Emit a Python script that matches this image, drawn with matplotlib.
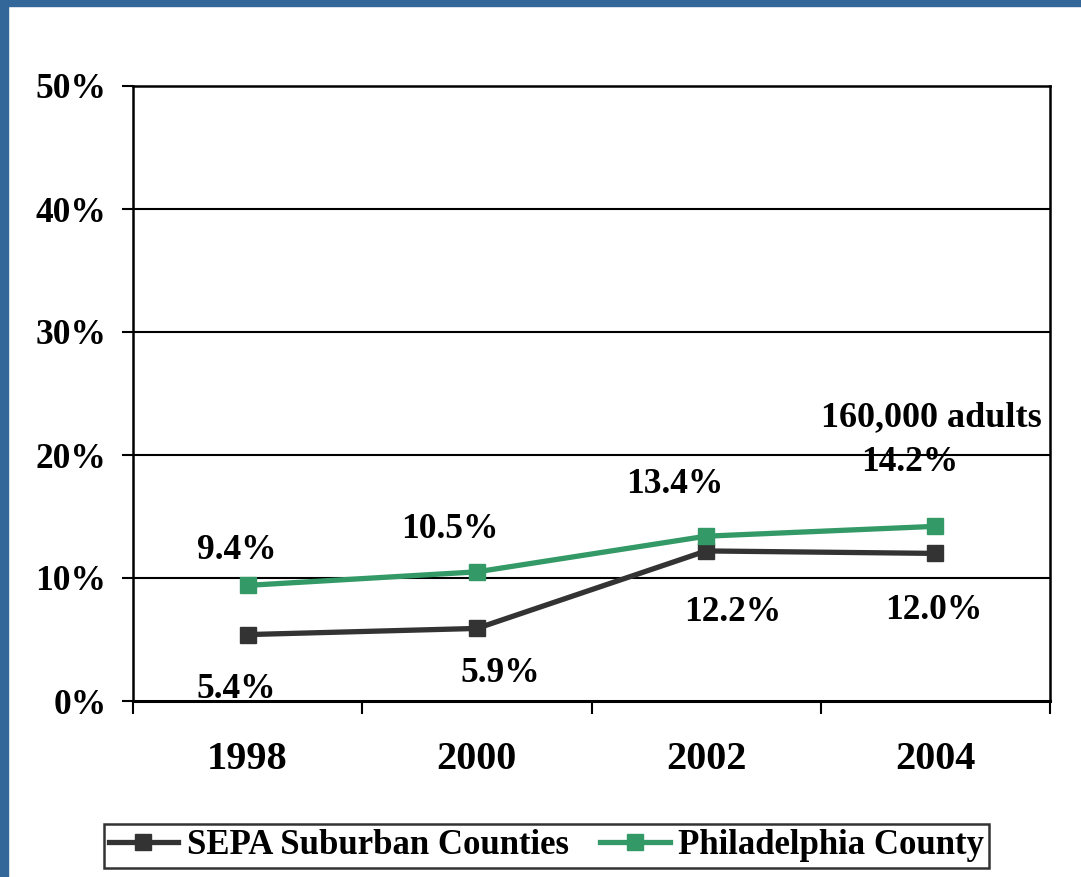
import matplotlib
matplotlib.use("Agg")
import matplotlib.pyplot as plt
from matplotlib.patches import Rectangle
from matplotlib.lines import Line2D

years = ["1998", "2000", "2002", "2004"]
sepa = [5.4, 5.9, 12.2, 12.0]
phila = [9.4, 10.5, 13.4, 14.2]
sepa_labels = ["5.4%", "5.9%", "12.2%", "12.0%"]
phila_labels = ["9.4%", "10.5%", "13.4%", "14.2%"]
y_ticks = [0, 10, 20, 30, 40, 50]
y_tick_labels = ["0%", "10%", "20%", "30%", "40%", "50%"]
series_names = ["SEPA Suburban Counties", "Philadelphia County"]
note = "160,000 adults"

plt.rcParams['font.family'] = ['Liberation Serif', 'DejaVu Serif']
plt.rcParams['font.weight'] = 'bold'

W, H = 1081, 877
fig = plt.figure(figsize=(W / 100, H / 100), dpi=100)
fig.patch.set_facecolor('white')

# blue frame (top and left)
blue = '#336699'
fig.add_artist(Rectangle((0, 1 - 6 / H), 1, 6 / H, transform=fig.transFigure, color=blue, zorder=0))
fig.add_artist(Rectangle((0, 0), 8 / W, 1, transform=fig.transFigure, color=blue, zorder=0))

left, right, top, bottom = 133, 1050, 86, 701
ax = fig.add_axes([left / W, 1 - bottom / H, (right - left) / W, (bottom - top) / H])

x = list(range(len(years)))
dark = '#333333'
green = '#339966'
ax.plot(x, sepa, color=dark, lw=3.8, marker='s', ms=12, zorder=3, solid_joinstyle='miter')
ax.plot(x, phila, color=green, lw=3.8, marker='s', ms=12, zorder=3, solid_joinstyle='miter')

ax.set_xlim(-0.5, len(years) - 0.5)
ax.set_ylim(0, 50)
ax.set_yticks(y_ticks)
ax.set_yticklabels(y_tick_labels, fontsize=25.5, fontweight='bold')
ax.set_xticks(x)
ax.set_xticklabels(years, fontsize=29, fontweight='bold')
ax.set_xticks([i - 0.5 for i in range(len(years) + 1)], minor=True)
ax.tick_params(axis='x', which='major', length=0, pad=29)
ax.tick_params(axis='x', which='minor', length=9, width=1.5, direction='out')
ax.tick_params(axis='y', length=8, width=1.5, direction='out', pad=11)

for yv in y_ticks[1:-1]:
    ax.axhline(yv, color='black', lw=1.5, zorder=1)
for s in ax.spines.values():
    s.set_color('black')
    s.set_linewidth(1.8)
ax.spines['bottom'].set_linewidth(2.2)

sepa_off = [(-11, -55), (23, -45), (27, -62), (-2, -57)]
phila_off = [(-11, 35), (-27, 42), (-31, 52), (-26, 64)]
for i in range(len(years)):
    ax.annotate(sepa_labels[i], (x[i], sepa[i]), xytext=sepa_off[i], textcoords='offset pixels',
                ha='center', va='center', fontsize=25.5, fontweight='bold', zorder=4)
    ax.annotate(phila_labels[i], (x[i], phila[i]), xytext=phila_off[i], textcoords='offset pixels',
                ha='center', va='center', fontsize=25.5, fontweight='bold', zorder=4)
ax.annotate(note, (x[3], phila[3]), xytext=(-4, 109), textcoords='offset pixels',
            ha='center', va='center', fontsize=26, fontweight='bold', zorder=4)

handles = [Line2D([], [], color=dark, lw=3.8, marker='s', ms=12),
           Line2D([], [], color=green, lw=3.8, marker='s', ms=12)]
leg = fig.legend(handles, series_names, loc='center', bbox_to_anchor=((103 + 990) / 2 / W, 1 - 846 / H),
                 ncol=2, frameon=True, fancybox=False, edgecolor='black',
                 prop={'weight': 'bold', 'size': 25}, handlelength=2.0, handletextpad=0.25,
                 columnspacing=0.9, borderpad=0.15, borderaxespad=0)
leg.get_frame().set_linewidth(1.8)

fig.savefig('out.png', dpi=100, facecolor='white')
